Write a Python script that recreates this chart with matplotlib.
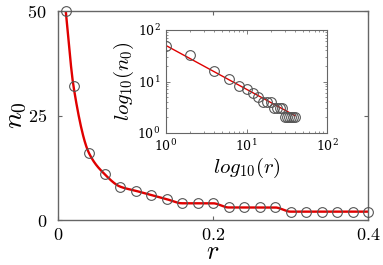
import numpy as np
import matplotlib
matplotlib.use("Agg")
import matplotlib.pyplot as plt
from matplotlib.ticker import FixedLocator, FixedFormatter, LogLocator, NullFormatter

plt.rcParams['mathtext.fontset'] = 'cm'
plt.rcParams['font.family'] = ['DejaVu Serif']

# data
r = [0.01, 0.02, 0.04, 0.06, 0.08, 0.10, 0.12, 0.14, 0.16, 0.18, 0.20,
     0.22, 0.24, 0.26, 0.28, 0.30, 0.32, 0.34, 0.36, 0.38, 0.40]
n0 = [50, 32, 16, 11, 8, 7, 6, 5, 4, 4, 4,
      3, 3, 3, 3, 2, 2, 2, 2, 2, 2]
r_scaled = [v * 100 for v in r]          # inset x values
fit_amp = 50.0                           # power-law fit n0 = A * x^b
fit_exp = -0.85

x_ticks = [0, 0.2, 0.4]
x_ticklabels = ['$0$', '$0.2$', '$0.4$']
y_ticks = [0, 25, 50]
y_ticklabels = ['$0$', '$25$', '$50$']


def pchip(x, y, xs):
    x = np.asarray(x, float); y = np.asarray(y, float)
    h = np.diff(x); d = np.diff(y) / h
    n = len(x); m = np.zeros(n)
    for k in range(1, n - 1):
        if d[k - 1] * d[k] > 0:
            w1 = 2 * h[k] + h[k - 1]; w2 = h[k] + 2 * h[k - 1]
            m[k] = (w1 + w2) / (w1 / d[k - 1] + w2 / d[k])
    m[0] = d[0]; m[-1] = d[-1]
    idx = np.clip(np.searchsorted(x, xs) - 1, 0, n - 2)
    t = (xs - x[idx]) / h[idx]
    h00 = 2 * t**3 - 3 * t**2 + 1; h10 = t**3 - 2 * t**2 + t
    h01 = -2 * t**3 + 3 * t**2; h11 = t**3 - t**2
    return h00 * y[idx] + h10 * h[idx] * m[idx] + h01 * y[idx + 1] + h11 * h[idx] * m[idx + 1]


fig = plt.figure(figsize=(3.83, 2.65), dpi=100)
ax = fig.add_axes([58 / 383, 1 - 220 / 265, 310 / 383, 209 / 265])

xs = np.linspace(r[0], r[-1], 400)
ax.plot(xs, pchip(r, n0, xs), color='#e00000', lw=1.7, zorder=2)
ax.plot(r, n0, 'o', mfc='none', mec='#555555', ms=7, mew=0.8, clip_on=False, zorder=3)

ax.set_xlim(0, 0.4)
ax.set_ylim(0, 50)
ax.xaxis.set_major_locator(FixedLocator(x_ticks))
ax.xaxis.set_major_formatter(FixedFormatter(x_ticklabels))
ax.yaxis.set_major_locator(FixedLocator(y_ticks))
ax.yaxis.set_major_formatter(FixedFormatter(y_ticklabels))
ax.tick_params(direction='in', top=True, right=True, length=3, width=0.8,
               color='#666666', labelsize=13)
ax.tick_params(axis='y', pad=8)
ax.tick_params(axis='x', pad=4)
for s in ax.spines.values():
    s.set_color('#666666'); s.set_linewidth(1.0)
ax.set_xlabel('$r$', fontsize=19, labelpad=-3)
ax.set_ylabel('$n_0$', fontsize=20, labelpad=-1)

# inset
ins = fig.add_axes([166 / 383, 1 - 133 / 265, 161 / 383, 103 / 265])
fx = np.array([r_scaled[0], r_scaled[-1]])
ins.plot(fx, fit_amp * fx ** fit_exp, color='#e00000', lw=1.0, zorder=2)
ins.plot(r_scaled, n0, 'o', mfc='none', mec='#555555', ms=7, mew=0.8, zorder=3)
ins.set_xscale('log'); ins.set_yscale('log')
ins.set_xlim(1, 100); ins.set_ylim(1, 100)
ins.xaxis.set_major_locator(LogLocator(base=10, numticks=5))
ins.yaxis.set_major_locator(LogLocator(base=10, numticks=5))
ins.xaxis.set_minor_formatter(NullFormatter())
ins.yaxis.set_minor_formatter(NullFormatter())
ins.tick_params(which='both', direction='in', top=True, right=True,
                color='#666666', labelsize=9)
ins.tick_params(axis='x', which='both', pad=4)
ins.tick_params(axis='y', which='both', pad=4)
ins.tick_params(which='major', length=3, width=0.6)
ins.tick_params(which='minor', length=1.5, width=0.5)
for s in ins.spines.values():
    s.set_color('#666666'); s.set_linewidth(0.8)
ins.set_xlabel('$log_{10}(r)$', fontsize=15, labelpad=1)
ins.set_ylabel('$log_{10}(n_0)$', fontsize=15, labelpad=1)

fig.savefig('out.png', dpi=100)
